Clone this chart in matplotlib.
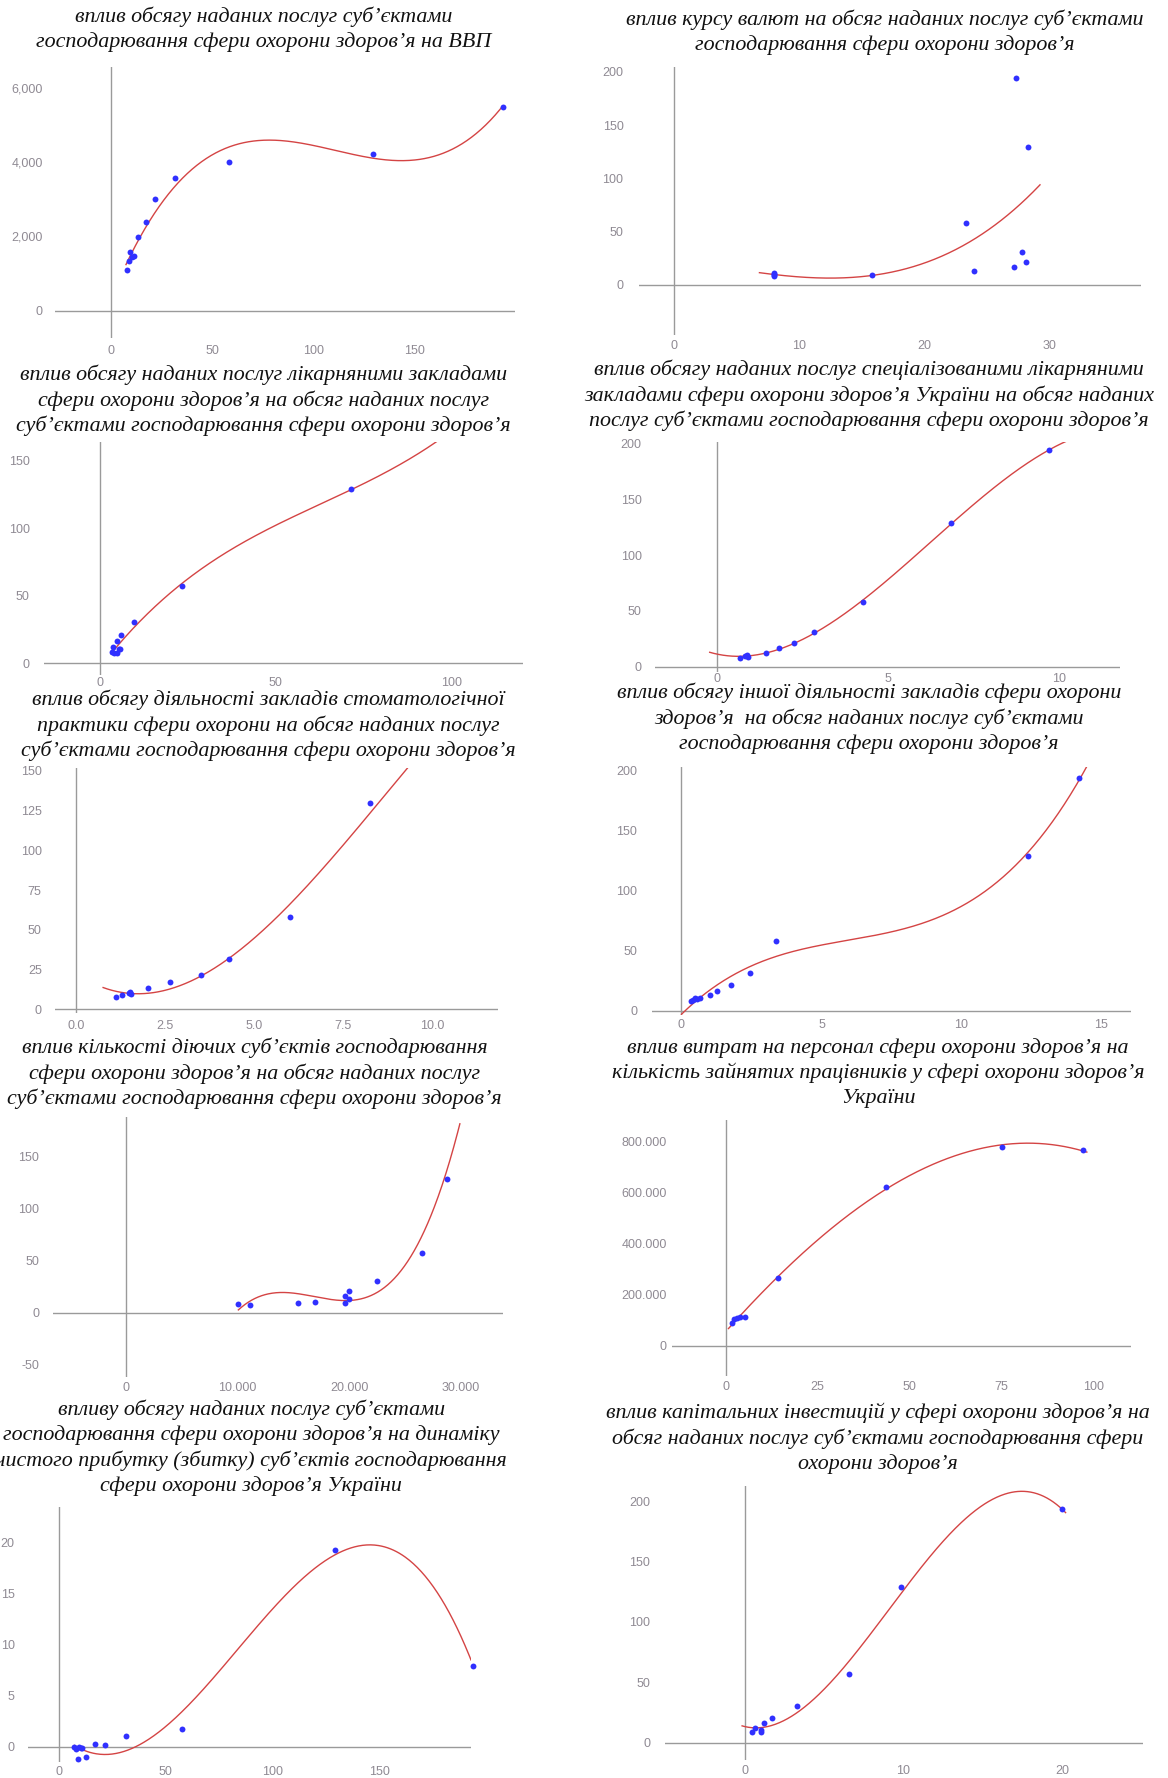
import numpy as np
import matplotlib
matplotlib.use("Agg")
import matplotlib.pyplot as plt
from numpy.polynomial import Polynomial

plt.rcParams['font.family'] = ['Liberation Sans', 'DejaVu Sans']

W, H = 1168, 1778

# --- data -------------------------------------------------------------
# 1: services volume vs GDP
services_1 = [8.1, 9.0, 9.6, 10.5, 11.4, 13.2, 17.1, 21.7, 31.4, 58.1, 129.2, 193.4]
gdp = [1094, 1345, 1587, 1435, 1470, 1991, 2395, 2996, 3570, 3991, 4215, 5480]

# 2: exchange rate vs services volume
exchange_rate = [8.0, 8.0, 8.0, 8.0, 15.8, 23.3, 24.0, 27.2, 27.3, 27.8, 28.1, 28.3]
services_2 = [8.1, 9.0, 10.5, 11.4, 9.4, 57.8, 13.1, 16.9, 194.0, 31.1, 21.6, 129.7]

# 3: hospitals vs services volume (last year lies above the visible window)
hospitals = [3.2, 3.7, 4.0, 4.6, 4.8, 5.3, 5.6, 5.9, 9.5, 23.1, 71.5, 110.0]
services_3 = [8.6, 12.4, 7.4, 16.6, 7.9, 10.4, 10.9, 21.0, 30.9, 57.6, 129.0, 194.0]

# 4: specialised hospitals vs services volume
special_hospitals = [0.67, 0.8, 0.87, 0.89, 1.44, 1.82, 2.26, 2.83, 4.28, 6.84, 9.71]
services_4 = [8.1, 9.6, 10.5, 9.0, 12.6, 16.5, 21.3, 30.8, 57.8, 129.0, 194.3]

# 5: dental practice vs services volume (last year above the window)
dental = [1.10, 1.28, 1.47, 1.52, 1.54, 2.02, 2.63, 3.51, 4.29, 6.0, 8.25, 11.0]
services_5 = [7.8, 8.8, 10.3, 10.9, 9.5, 13.0, 16.8, 21.2, 31.3, 58.0, 129.6, 194.0]

# 6: other activity vs services volume
other_activity = [0.33, 0.40, 0.48, 0.57, 0.66, 1.01, 1.28, 1.77, 2.46, 3.39, 12.37, 14.2]
services_6 = [8.1, 8.9, 10.8, 9.5, 10.3, 13.1, 16.7, 21.4, 31.2, 58.1, 129.3, 193.9]

# 7: number of active entities vs services volume (last year above the window)
entities = [10090, 11090, 15420, 16980, 19650, 19650, 19950, 19980, 22510, 26470, 28740, 29900]
services_7 = [8.3, 7.4, 9.6, 10.6, 9.0, 16.4, 20.9, 12.8, 30.8, 57.1, 128.7, 194.0]

# 8: staff costs vs employed
staff_costs = [1.72, 2.23, 3.04, 3.85, 5.27, 14.2, 43.6, 75.2, 97.3]
employed = [88700, 107000, 108300, 112200, 114800, 267500, 623800, 780500, 766100]

# 9: services volume vs net profit
services_9 = [7.3, 8.2, 9.0, 9.6, 10.4, 11.1, 12.9, 16.9, 21.6, 31.3, 57.8, 129.1, 193.5]
net_profit = [-0.07, -0.23, -1.2, -0.07, -0.1, -0.16, -1.05, 0.23, 0.16, 1.05, 1.7, 19.3, 7.94]

# 10: capital investment vs services volume
investment = [0.49, 0.66, 1.0, 1.03, 1.22, 1.74, 3.28, 6.59, 9.87, 19.95]
services_10 = [8.6, 11.9, 10.5, 9.1, 16.0, 20.7, 30.4, 57.2, 129.0, 193.6]

titles = [
    ["вплив обсягу наданих послуг суб’єктами",
     "господарювання сфери охорони здоров’я на ВВП"],
    ["вплив курсу валют на обсяг наданих послуг суб’єктами",
     "господарювання сфери охорони здоров’я"],
    ["вплив обсягу наданих послуг лікарняними закладами",
     "сфери охорони здоров’я на обсяг наданих послуг",
     "суб’єктами господарювання сфери охорони здоров’я"],
    ["вплив обсягу наданих послуг спеціалізованими лікарняними",
     "закладами сфери охорони здоров’я України на обсяг наданих",
     "послуг суб’єктами господарювання сфери охорони здоров’я"],
    ["вплив обсягу діяльності закладів стоматологічної",
     "практики сфери охорони на обсяг наданих послуг",
     "суб’єктами господарювання сфери охорони здоров’я"],
    ["вплив обсягу іншої діяльності закладів сфери охорони",
     "здоров’я  на обсяг наданих послуг суб’єктами",
     "господарювання сфери охорони здоров’я"],
    ["вплив кількості діючих суб’єктів господарювання",
     "сфери охорони здоров’я на обсяг наданих послуг",
     "суб’єктами господарювання сфери охорони здоров’я"],
    ["вплив витрат на персонал сфери охорони здоров’я на",
     "кількість зайнятих працівників у сфері охорони здоров’я",
     "України"],
    ["впливу обсягу наданих послуг суб’єктами",
     "господарювання сфери охорони здоров’я на динаміку",
     "чистого прибутку (збитку) суб’єктів господарювання",
     "сфери охорони здоров’я України"],
    ["вплив капітальних інвестицій у сфері охорони здоров’я на",
     "обсяг наданих послуг суб’єктами господарювання сфери",
     "охорони здоров’я"],
]

panels = [
    dict(x=services_1, y=gdp, box=(55.1, 66.7, 514.6, 338.3), title_at=(263.6, 17),
         xlim=(-27.6, 199.3), ylim=(-744, 6565),
         xticks=[0, 50, 100, 150], xlabels=["0", "50", "100", "150"],
         yticks=[0, 2000, 4000, 6000], ylabels=["0", "2,000", "4,000", "6,000"],
         trend=(7.4, 193.4), xoff=11.7, yoff=12.3),
    dict(x=exchange_rate, y=services_2, box=(639.1, 66.7, 1140.6, 335), title_at=(884.5, 20),
         xlim=(-2.83, 37.3), ylim=(-46.9, 204.7),
         xticks=[0, 10, 20, 30], xlabels=["0", "10", "20", "30"],
         yticks=[0, 50, 100, 150, 200], ylabels=["0", "50", "100", "150", "200"],
         trend=(6.8, 29.25), xoff=10.7, yoff=15.6),
    dict(x=hospitals, y=services_3, box=(43.9, 441.7, 523.1, 675), title_at=(263.6, 375),
         xlim=(-16.1, 120.4), ylim=(-8.6, 164.3),
         xticks=[0, 50, 100], xlabels=["0", "50", "100"],
         yticks=[0, 50, 100, 150], ylabels=["0", "50", "100", "150"],
         trend=(3.0, 110.0), xoff=7.3, yoff=14.1),
    dict(x=special_hospitals, y=services_4, box=(654.7, 441.7, 1120.2, 671.7), title_at=(868.8, 370),
         xlim=(-1.83, 11.8), ylim=(-4.5, 202),
         xticks=[0, 5, 10], xlabels=["0", "5", "10"],
         yticks=[0, 50, 100, 150, 200], ylabels=["0", "50", "100", "150", "200"],
         trend=(-0.22, 10.25), xoff=7.3, yoff=13),
    dict(x=dental, y=services_5, box=(55.1, 768.3, 498.2, 1013.3), title_at=(268.1, 700),
         xlim=(-0.6, 11.86), ylim=(-2.7, 151.7),
         xticks=[0, 2.5, 5, 7.5, 10], xlabels=["0.0", "2.5", "5.0", "7.5", "10.0"],
         yticks=[0, 25, 50, 75, 100, 125, 150],
         ylabels=["0", "25", "50", "75", "100", "125", "150"],
         trend=(0.75, 11.0), xoff=12, yoff=13.4),
    dict(x=other_activity, y=services_6, box=(652.1, 767.3, 1130.6, 1015), title_at=(868.8, 693),
         xlim=(-1.05, 16.04), ylim=(-3.6, 203),
         xticks=[0, 5, 10, 15], xlabels=["0", "5", "10", "15"],
         yticks=[0, 50, 100, 150, 200], ylabels=["0", "50", "100", "150", "200"],
         trend=(0.0, 14.47), xoff=9.3, yoff=14.9),
    dict(x=entities, y=services_7, box=(53.3, 1117.3, 502.7, 1376.7), title_at=(254.7, 1048),
         xlim=(-6460, 33730), ylim=(-61.6, 188.1),
         xticks=[0, 10000, 20000, 30000], xlabels=["0", "10.000", "20.000", "30.000"],
         yticks=[-50, 0, 50, 100, 150], ylabels=["-50", "0", "50", "100", "150"],
         trend=(10090, 29900), xoff=11, yoff=14.2),
    dict(x=staff_costs, y=employed, box=(671.5, 1120, 1131.3, 1376), title_at=(877.8, 1048),
         xlim=(-14.7, 110.4), ylim=(-117500, 885000),
         xticks=[0, 25, 50, 75, 100], xlabels=["0", "25", "50", "75", "100"],
         yticks=[0, 200000, 400000, 600000, 800000],
         ylabels=["0", "200.000", "400.000", "600.000", "800.000"],
         trend=(0.8, 98.3), xoff=10.7, yoff=4.8),
    dict(x=services_9, y=net_profit, box=(27.9, 1507.3, 471.0, 1761.7), title_at=(251.3, 1410),
         xlim=(-14.4, 192.6), ylim=(-1.47, 23.5),
         xticks=[0, 50, 100, 150], xlabels=["0", "50", "100", "150"],
         yticks=[0, 5, 10, 15, 20], ylabels=["0", "5", "10", "15", "20"],
         trend=(7.3, 192.6), xoff=10, yoff=13.1),
    dict(x=investment, y=services_10, box=(665.2, 1486, 1142.5, 1760), title_at=(877.8, 1413),
         xlim=(-5.0, 25.04), ylim=(-14.4, 212.7),
         xticks=[0, 10, 20], xlabels=["0", "10", "20"],
         yticks=[0, 50, 100, 150, 200], ylabels=["0", "50", "100", "150", "200"],
         trend=(-0.16, 20.2), xoff=10.7, yoff=14.9),
]

LINE_STEP = 25.3
TICK_COLOR = '#8f8a93'


def draw_panel(fig, p, title):
    x0, y0, x1, y1 = p['box']
    ax = fig.add_axes([x0 / W, 1 - y1 / H, (x1 - x0) / W, (y1 - y0) / H])
    ax.set_xlim(*p['xlim'])
    ax.set_ylim(*p['ylim'])
    for s in ax.spines.values():
        s.set_visible(False)

    ax.axvline(0, color='#9a9a9a', lw=1.0, zorder=1)
    ax.axhline(0, color='#9a9a9a', lw=1.0, zorder=1)

    x = np.asarray(p['x'], float)
    y = np.asarray(p['y'], float)

    # cubic trend line through all points
    fit = Polynomial.fit(x, y, 3)
    xs = np.linspace(p['trend'][0], p['trend'][1], 400)
    ax.plot(xs, fit(xs), color='#d44444', lw=1.0, zorder=2)

    # points above the y window are not shown
    vis = y <= p['ylim'][1]
    ax.scatter(x[vis], y[vis], s=18, color='#3030ff', linewidths=0, zorder=3, clip_on=False)

    ax.set_xticks(p['xticks'])
    ax.set_xticklabels(p['xlabels'])
    ax.set_yticks(p['yticks'])
    ax.set_yticklabels(p['ylabels'])
    ax.tick_params(axis='x', length=0, labelsize=9, colors=TICK_COLOR,
                   pad=max(p['xoff'] - 5.5, 0) * 0.72)
    ax.tick_params(axis='y', length=0, labelsize=9, colors=TICK_COLOR,
                   pad=p['yoff'] * 0.72)

    cx, cy = p['title_at']
    for i, line in enumerate(title):
        fig.text(cx / W, 1 - (cy + i * LINE_STEP) / H, line, ha='center', va='center',
                 fontsize=15.8, style='italic', family='Liberation Serif', color='#111111')
    return ax


fig = plt.figure(figsize=(W / 100, H / 100), dpi=100)
for p, t in zip(panels, titles):
    draw_panel(fig, p, t)

fig.savefig('out.png', dpi=100, facecolor='white')
